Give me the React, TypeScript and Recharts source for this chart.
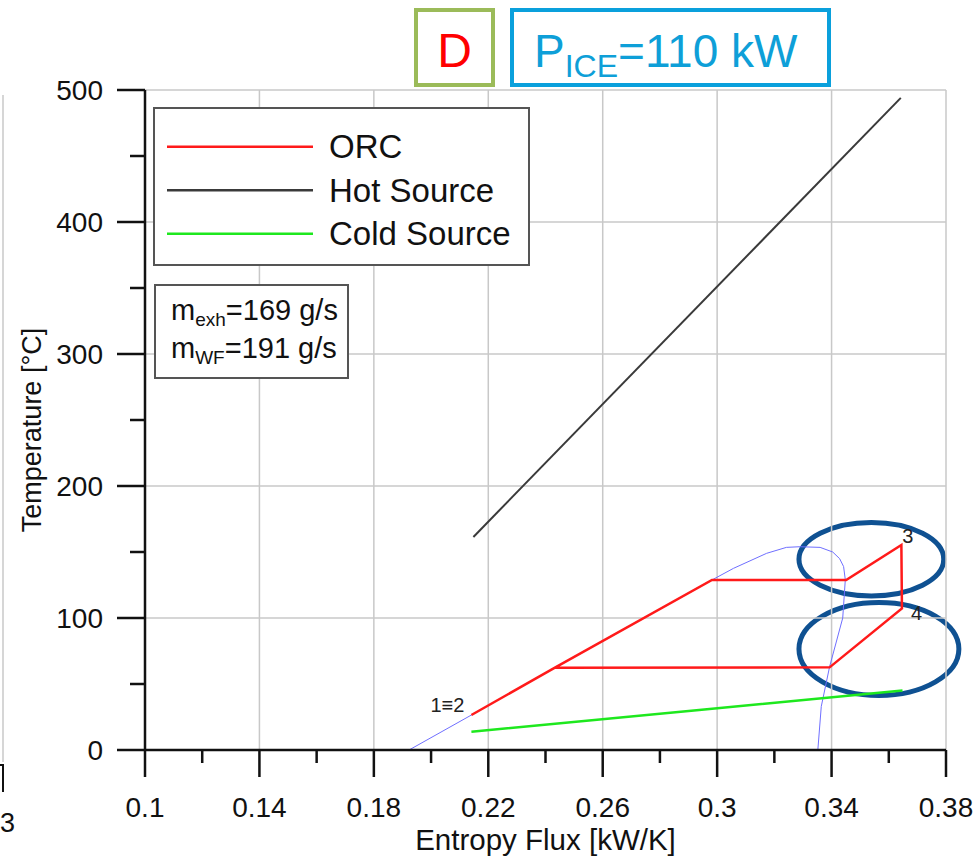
import { LineChart, Line, XAxis, YAxis, ReferenceLine, ReferenceArea, ReferenceDot } from "recharts";

const FONT = '"Liberation Sans", Arial, sans-serif';

// axis ticks
const xMajor = [0.1, 0.14, 0.18, 0.22, 0.26, 0.3, 0.34, 0.38];
const xMinor = [0.12, 0.16, 0.2, 0.24, 0.28, 0.32, 0.36];
const yMajor = [0, 100, 200, 300, 400, 500];
const yMinor = [50, 150, 250, 350, 450];

// ORC cycle (entropy flux kW/K, temperature °C)
const orcS = [0.2141, 0.2433, 0.2982, 0.3451, 0.3644, 0.3646, 0.3393, 0.2433];
const orcT = [26.5, 62.4, 128.8, 128.8, 155.3, 107.3, 62.6, 62.4];

// hot source (exhaust)
const hotS = [0.2148, 0.3642];
const hotT = [161.4, 494];

// cold source
const coldS = [0.2141, 0.2937, 0.3648];
const coldT = [13.9, 30.3, 45];

// saturation dome of working fluid
const domeS = [0.1923, 0.2141, 0.2433, 0.2982, 0.3057, 0.3173, 0.3242, 0.3289, 0.336, 0.3404, 0.3428, 0.3442, 0.3448, 0.3439, 0.3393, 0.3364, 0.3352];
const domeT = [0, 26.5, 62.4, 128.8, 137.6, 149, 153.5, 154, 153.5, 150, 145, 139, 129, 100, 63, 33, 0];

// state point labels
const stateNames = ["1≡2", "3", "4"];
const stateS = [0.2141, 0.3644, 0.3646];
const stateT = [26.5, 155.3, 107.3];

// highlighted regions (ellipses)
const hlS1 = [0.3286, 0.3286];
const hlS2 = [0.3792, 0.3845];
const hlT1 = [116.7, 41.3];
const hlT2 = [172.3, 111.7];

const zip = (s: number[], t: number[]) => s.map((x, i) => ({ x, y: t[i] }));
const orcData = zip(orcS, orcT);
const hotData = zip(hotS, hotT);
const coldData = zip(coldS, coldT);
const domeData = zip(domeS, domeT);
const xTicks = [...xMajor, ...xMinor].sort((a, b) => a - b);
const yTicks = [...yMajor, ...yMinor].sort((a, b) => a - b);

const series = [
  { name: "ORC", color: "#ff1a1a" },
  { name: "Hot Source", color: "#3a3a3a" },
  { name: "Cold Source", color: "#1ee81e" },
];

const XTick = ({ x, y, payload }: any) => {
  const major = xMajor.includes(payload.value);
  return (
    <g>
      <line x1={x} x2={x} y1={y} y2={y + (major ? 27 : 13)} stroke="#111" strokeWidth={2.5} />
      {major && (
        <text x={x} y={y + 67} textAnchor="middle" fontSize={28} fill="#111" fontFamily={FONT}>
          {String(payload.value)}
        </text>
      )}
    </g>
  );
};

const YTick = ({ x, y, payload }: any) => {
  const major = yMajor.includes(payload.value);
  return (
    <g>
      <line x1={x} x2={x - (major ? 28 : 15)} y1={y} y2={y} stroke="#111" strokeWidth={2.5} />
      {major && (
        <text x={x - 42} y={y + 10} textAnchor="end" fontSize={28} fill="#111" fontFamily={FONT}>
          {payload.value}
        </text>
      )}
    </g>
  );
};

const YTitle = (props: any) => {
  const vb = props.viewBox;
  const cx = vb.x + 41;
  const cy = vb.y + vb.height / 2 + 10;
  return (
    <text x={cx} y={cy} transform={`rotate(-90, ${cx}, ${cy})`} textAnchor="middle" fontSize={27} fill="#111" fontFamily={FONT}>
      Temperature [°C]
    </text>
  );
};

const Ellipse = (p: any) => (
  <ellipse cx={p.x + p.width / 2} cy={p.y + p.height / 2} rx={Math.abs(p.width) / 2} ry={Math.abs(p.height) / 2}
    fill="none" stroke="#0f5192" strokeWidth={5} />
);

const labelOffsets = [{ dx: -7, dy: -3, anchor: "end" }, { dx: 1, dy: -2, anchor: "start" }, { dx: 9, dy: 12, anchor: "start" }];

export default function App() {
  return (
    <div style={{ position: "absolute", left: 0, top: 0, width: 980, height: 859, background: "#fff", fontFamily: FONT }}>
      <LineChart width={980} height={859} margin={{ top: 90, right: 34, bottom: 0, left: 0 }}>
        <XAxis type="number" dataKey="x" domain={[0.1, 0.38]} ticks={xTicks} interval={0} allowDataOverflow height={109}
          tickSize={0} tickMargin={0} tickLine={false} axisLine={{ stroke: "#111", strokeWidth: 2.5 }} tick={<XTick />}
          label={{ value: "Entropy Flux [kW/K]", position: "insideBottom", offset: 9, fontSize: 29.5, fill: "#111", fontFamily: FONT }} />
        <YAxis type="number" domain={[0, 500]} ticks={yTicks} interval={0} allowDataOverflow width={145}
          tickSize={0} tickMargin={0} tickLine={false} axisLine={{ stroke: "#111", strokeWidth: 2.5 }} tick={<YTick />}
          label={YTitle} />
        {xMajor.map(v => <ReferenceLine key={"gx" + v} x={v} stroke="#c8c8c8" strokeWidth={1.5} />)}
        {yMajor.map(v => <ReferenceLine key={"gy" + v} y={v} stroke="#c8c8c8" strokeWidth={1.5} />)}
        <Line data={domeData} dataKey="y" type="linear" stroke="#6f6fff" strokeWidth={1} dot={false} isAnimationActive={false} />
        <Line data={hotData} dataKey="y" type="linear" stroke="#3a3a3a" strokeWidth={2} dot={false} isAnimationActive={false} />
        <Line data={coldData} dataKey="y" type="linear" stroke="#1ee81e" strokeWidth={2.5} dot={false} isAnimationActive={false} />
        <Line data={orcData} dataKey="y" type="linear" stroke="#ff1a1a" strokeWidth={2.5} dot={false} isAnimationActive={false} />
        {stateNames.map((n, i) => (
          <ReferenceDot key={n} x={stateS[i]} y={stateT[i]} r={0} ifOverflow="visible"
            shape={(p: any) => (
              <text x={p.cx + labelOffsets[i].dx} y={p.cy + labelOffsets[i].dy} textAnchor={labelOffsets[i].anchor as any}
                fontSize={20} fill="#222" fontFamily={FONT}>{n}</text>
            )} />
        ))}
        {hlS1.map((s, i) => (
          <ReferenceArea key={"hl" + i} x1={s} x2={hlS2[i]} y1={hlT1[i]} y2={hlT2[i]} ifOverflow="visible" shape={Ellipse} />
        ))}
      </LineChart>

      <svg width={980} height={859} style={{ position: "absolute", left: 0, top: 0, pointerEvents: "none" }} fontFamily={FONT}>
        {/* remains of neighbouring panel */}
        <line x1={3} x2={3} y1={95} y2={762} stroke="#d6d6d6" strokeWidth={2} />
        <polyline points="0,765 3,765 3,792" fill="none" stroke="#111" strokeWidth={2} />
        <text x={0} y={832} fontSize={27} fill="#111">3</text>

        {/* case tags */}
        <rect x={416} y={10} width={77} height={75} fill="#fff" stroke="#9bbb59" strokeWidth={4} />
        <text x={454.5} y={67} textAnchor="middle" fontSize={48} fill="#ff0000">D</text>
        <rect x={512} y={10} width={317} height={75} fill="#fff" stroke="#0aa0dc" strokeWidth={4} />
        <text x={534} y={67} fontSize={46} fill="#0e9fd8">
          <tspan>P</tspan>
          <tspan dy={10} fontSize={32}>ICE</tspan>
          <tspan dy={-10}>=110 kW</tspan>
        </text>

        {/* legend */}
        <rect x={154} y={108} width={375} height={157} fill="#fff" stroke="#555" strokeWidth={2} />
        {series.map((s, i) => (
          <g key={s.name}>
            <line x1={167} x2={313} y1={146.7 + 43.5 * i} y2={146.7 + 43.5 * i} stroke={s.color} strokeWidth={2.5} />
            <text x={329} y={158 + 43.5 * i} fontSize={33} fill="#111">{s.name}</text>
          </g>
        ))}

        {/* mass flow box */}
        <rect x={155} y={285} width={193} height={93} fill="#fff" stroke="#555" strokeWidth={2} />
        <text x={171} y={320} fontSize={29} fill="#111">
          <tspan>m</tspan><tspan dy={6} fontSize={19}>exh</tspan><tspan dy={-6}>=169 g/s</tspan>
        </text>
        <text x={171} y={358} fontSize={29} fill="#111">
          <tspan>m</tspan><tspan dy={6} fontSize={19}>WF</tspan><tspan dy={-6}>=191 g/s</tspan>
        </text>
      </svg>
    </div>
  );
}
